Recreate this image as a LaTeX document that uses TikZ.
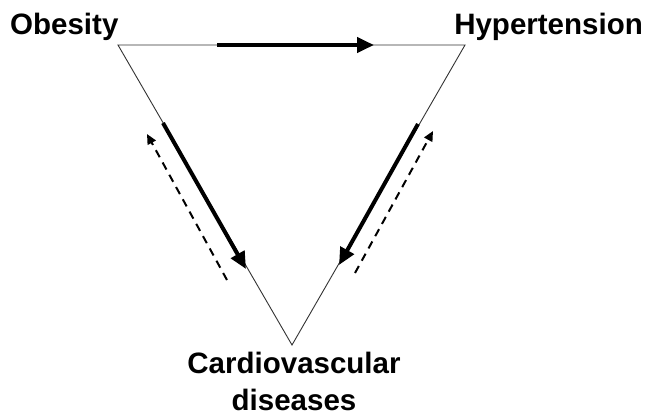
\documentclass[tikz,border=0pt]{standalone}
\usepackage{fontspec}
\setmainfont{Liberation Sans}
\usetikzlibrary{arrows.meta}
\begin{document}
\begin{tikzpicture}[x=1pt,y=-1pt,
  lbl/.style={font=\fontsize{29.5}{36}\selectfont\bfseries, inner sep=0pt},
  edge/.style={line width=0.9pt, black!80},
  thickarr/.style={line width=4pt, -{Triangle[length=17pt,width=15pt]}},
  dasharr/.style={line width=2pt, dash pattern=on 8pt off 6pt, -{Triangle[length=10pt,width=9pt]}}]
\useasboundingbox (0,0) rectangle (648,416);
\fill[white] (0,0) rectangle (648,416);
% vertices
\coordinate (O) at (118,45);
\coordinate (H) at (465,45);
\coordinate (C) at (292,345);
% labels
\node[lbl, anchor=base west] (ob) at (10,34) {Obesity};
\node[lbl, anchor=base east] (hy) at (643,34) {Hypertension};
\node[lbl, anchor=base] (cv) at (294,373) {Cardiovascular};
\node[lbl, anchor=base] (di) at (294,410) {diseases};
% triangle
\draw[edge] (O) -- (H) -- (C) -- cycle;
% arrow endpoints
\coordinate (t1) at (217,45);
\coordinate (t2) at (374,45);
\coordinate (l1) at (163,123);
\coordinate (l2) at (246,269);
\coordinate (ld1) at (227,280);
\coordinate (ld2) at (147,134);
\coordinate (r1) at (418,124);
\coordinate (r2) at (339,265);
\coordinate (rd1) at (355,273);
\coordinate (rd2) at (433,131);
% arrows
\draw[thickarr] (t1) -- (t2);
\draw[thickarr] (l1) -- (l2);
\draw[thickarr] (r1) -- (r2);
\draw[dasharr] (ld1) -- (ld2);
\draw[dasharr] (rd1) -- (rd2);
\end{tikzpicture}
\end{document}
